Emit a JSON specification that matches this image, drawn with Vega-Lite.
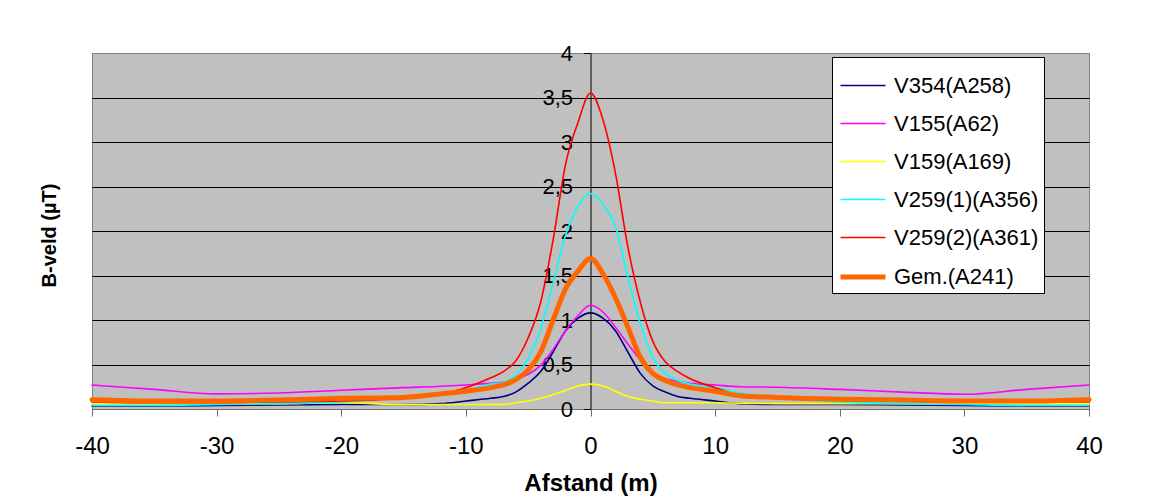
{
  "$schema": "https://vega.github.io/schema/vega-lite/v6.json",
  "width": 997,
  "height": 356,
  "autosize": {"type": "none"},
  "padding": {"left": 92, "top": 53, "right": 74, "bottom": 88},
  "background": "white",
  "config": {
    "font": "Liberation Sans",
    "view": {"fill": "#C0C0C0", "stroke": "#808080", "strokeWidth": 1}
  },
  "data": {"values": [
    {"x":-40,"s":"V354(A258)","v":0.035},{"x":-35,"s":"V354(A258)","v":0.035},{"x":-30,"s":"V354(A258)","v":0.04},{"x":-25,"s":"V354(A258)","v":0.045},{"x":-20,"s":"V354(A258)","v":0.05},{"x":-15,"s":"V354(A258)","v":0.05},{"x":-12,"s":"V354(A258)","v":0.06},{"x":-10,"s":"V354(A258)","v":0.09},{"x":-8,"s":"V354(A258)","v":0.12},{"x":-7,"s":"V354(A258)","v":0.14},{"x":-6,"s":"V354(A258)","v":0.19},{"x":-5,"s":"V354(A258)","v":0.29},{"x":-4,"s":"V354(A258)","v":0.42},{"x":-3,"s":"V354(A258)","v":0.64},{"x":-2,"s":"V354(A258)","v":0.88},{"x":-1,"s":"V354(A258)","v":1.02},{"x":0,"s":"V354(A258)","v":1.08},{"x":1,"s":"V354(A258)","v":1.02},{"x":2,"s":"V354(A258)","v":0.88},{"x":3,"s":"V354(A258)","v":0.64},{"x":4,"s":"V354(A258)","v":0.40},{"x":5,"s":"V354(A258)","v":0.26},{"x":6,"s":"V354(A258)","v":0.19},{"x":7,"s":"V354(A258)","v":0.14},{"x":8,"s":"V354(A258)","v":0.12},{"x":10,"s":"V354(A258)","v":0.09},{"x":12,"s":"V354(A258)","v":0.06},{"x":15,"s":"V354(A258)","v":0.05},{"x":20,"s":"V354(A258)","v":0.05},{"x":25,"s":"V354(A258)","v":0.045},{"x":30,"s":"V354(A258)","v":0.04},{"x":35,"s":"V354(A258)","v":0.035},{"x":40,"s":"V354(A258)","v":0.035},
    {"x":-40,"s":"V155(A62)","v":0.27},{"x":-35,"s":"V155(A62)","v":0.22},{"x":-30,"s":"V155(A62)","v":0.17},{"x":-25,"s":"V155(A62)","v":0.18},{"x":-20,"s":"V155(A62)","v":0.21},{"x":-15,"s":"V155(A62)","v":0.24},{"x":-12,"s":"V155(A62)","v":0.255},{"x":-10,"s":"V155(A62)","v":0.27},{"x":-8,"s":"V155(A62)","v":0.29},{"x":-7,"s":"V155(A62)","v":0.30},{"x":-6,"s":"V155(A62)","v":0.34},{"x":-5,"s":"V155(A62)","v":0.39},{"x":-4,"s":"V155(A62)","v":0.49},{"x":-3,"s":"V155(A62)","v":0.67},{"x":-2,"s":"V155(A62)","v":0.88},{"x":-1,"s":"V155(A62)","v":1.05},{"x":0,"s":"V155(A62)","v":1.165},{"x":1,"s":"V155(A62)","v":1.09},{"x":2,"s":"V155(A62)","v":0.92},{"x":3,"s":"V155(A62)","v":0.73},{"x":4,"s":"V155(A62)","v":0.55},{"x":5,"s":"V155(A62)","v":0.40},{"x":6,"s":"V155(A62)","v":0.34},{"x":7,"s":"V155(A62)","v":0.31},{"x":8,"s":"V155(A62)","v":0.29},{"x":10,"s":"V155(A62)","v":0.27},{"x":12,"s":"V155(A62)","v":0.25},{"x":15,"s":"V155(A62)","v":0.245},{"x":20,"s":"V155(A62)","v":0.22},{"x":25,"s":"V155(A62)","v":0.19},{"x":30,"s":"V155(A62)","v":0.165},{"x":35,"s":"V155(A62)","v":0.22},{"x":40,"s":"V155(A62)","v":0.27},
    {"x":-40,"s":"V159(A169)","v":0.06},{"x":-35,"s":"V159(A169)","v":0.06},{"x":-30,"s":"V159(A169)","v":0.06},{"x":-25,"s":"V159(A169)","v":0.06},{"x":-20,"s":"V159(A169)","v":0.07},{"x":-15,"s":"V159(A169)","v":0.05},{"x":-12,"s":"V159(A169)","v":0.05},{"x":-10,"s":"V159(A169)","v":0.05},{"x":-8,"s":"V159(A169)","v":0.05},{"x":-7,"s":"V159(A169)","v":0.05},{"x":-6,"s":"V159(A169)","v":0.07},{"x":-5,"s":"V159(A169)","v":0.09},{"x":-4,"s":"V159(A169)","v":0.12},{"x":-3,"s":"V159(A169)","v":0.16},{"x":-2,"s":"V159(A169)","v":0.21},{"x":-1,"s":"V159(A169)","v":0.26},{"x":0,"s":"V159(A169)","v":0.28},{"x":1,"s":"V159(A169)","v":0.26},{"x":2,"s":"V159(A169)","v":0.20},{"x":3,"s":"V159(A169)","v":0.14},{"x":4,"s":"V159(A169)","v":0.11},{"x":5,"s":"V159(A169)","v":0.09},{"x":6,"s":"V159(A169)","v":0.07},{"x":7,"s":"V159(A169)","v":0.07},{"x":8,"s":"V159(A169)","v":0.07},{"x":10,"s":"V159(A169)","v":0.07},{"x":12,"s":"V159(A169)","v":0.065},{"x":15,"s":"V159(A169)","v":0.06},{"x":20,"s":"V159(A169)","v":0.06},{"x":25,"s":"V159(A169)","v":0.06},{"x":30,"s":"V159(A169)","v":0.06},{"x":35,"s":"V159(A169)","v":0.06},{"x":40,"s":"V159(A169)","v":0.06},
    {"x":-40,"s":"V259(1)(A356)","v":0.04},{"x":-35,"s":"V259(1)(A356)","v":0.04},{"x":-30,"s":"V259(1)(A356)","v":0.05},{"x":-25,"s":"V259(1)(A356)","v":0.06},{"x":-20,"s":"V259(1)(A356)","v":0.08},{"x":-15,"s":"V259(1)(A356)","v":0.13},{"x":-12,"s":"V259(1)(A356)","v":0.17},{"x":-10,"s":"V259(1)(A356)","v":0.21},{"x":-8,"s":"V259(1)(A356)","v":0.28},{"x":-7,"s":"V259(1)(A356)","v":0.30},{"x":-6,"s":"V259(1)(A356)","v":0.38},{"x":-5,"s":"V259(1)(A356)","v":0.57},{"x":-4,"s":"V259(1)(A356)","v":0.90},{"x":-3,"s":"V259(1)(A356)","v":1.42},{"x":-2,"s":"V259(1)(A356)","v":1.95},{"x":-1,"s":"V259(1)(A356)","v":2.28},{"x":0,"s":"V259(1)(A356)","v":2.42},{"x":1,"s":"V259(1)(A356)","v":2.30},{"x":2,"s":"V259(1)(A356)","v":2.05},{"x":3,"s":"V259(1)(A356)","v":1.48},{"x":4,"s":"V259(1)(A356)","v":0.96},{"x":5,"s":"V259(1)(A356)","v":0.58},{"x":6,"s":"V259(1)(A356)","v":0.40},{"x":7,"s":"V259(1)(A356)","v":0.32},{"x":8,"s":"V259(1)(A356)","v":0.28},{"x":10,"s":"V259(1)(A356)","v":0.24},{"x":12,"s":"V259(1)(A356)","v":0.18},{"x":15,"s":"V259(1)(A356)","v":0.13},{"x":20,"s":"V259(1)(A356)","v":0.08},{"x":25,"s":"V259(1)(A356)","v":0.06},{"x":30,"s":"V259(1)(A356)","v":0.05},{"x":35,"s":"V259(1)(A356)","v":0.04},{"x":40,"s":"V259(1)(A356)","v":0.04},
    {"x":-40,"s":"V259(2)(A361)","v":0.08},{"x":-35,"s":"V259(2)(A361)","v":0.07},{"x":-30,"s":"V259(2)(A361)","v":0.07},{"x":-25,"s":"V259(2)(A361)","v":0.08},{"x":-20,"s":"V259(2)(A361)","v":0.09},{"x":-15,"s":"V259(2)(A361)","v":0.12},{"x":-12,"s":"V259(2)(A361)","v":0.17},{"x":-10,"s":"V259(2)(A361)","v":0.24},{"x":-8,"s":"V259(2)(A361)","v":0.35},{"x":-7,"s":"V259(2)(A361)","v":0.42},{"x":-6,"s":"V259(2)(A361)","v":0.54},{"x":-5,"s":"V259(2)(A361)","v":0.80},{"x":-4,"s":"V259(2)(A361)","v":1.20},{"x":-3,"s":"V259(2)(A361)","v":1.90},{"x":-2,"s":"V259(2)(A361)","v":2.75},{"x":-1,"s":"V259(2)(A361)","v":3.22},{"x":0,"s":"V259(2)(A361)","v":3.55},{"x":1,"s":"V259(2)(A361)","v":3.25},{"x":2,"s":"V259(2)(A361)","v":2.65},{"x":3,"s":"V259(2)(A361)","v":1.82},{"x":4,"s":"V259(2)(A361)","v":1.20},{"x":5,"s":"V259(2)(A361)","v":0.76},{"x":6,"s":"V259(2)(A361)","v":0.53},{"x":7,"s":"V259(2)(A361)","v":0.42},{"x":8,"s":"V259(2)(A361)","v":0.34},{"x":10,"s":"V259(2)(A361)","v":0.24},{"x":12,"s":"V259(2)(A361)","v":0.15},{"x":15,"s":"V259(2)(A361)","v":0.12},{"x":20,"s":"V259(2)(A361)","v":0.10},{"x":25,"s":"V259(2)(A361)","v":0.09},{"x":30,"s":"V259(2)(A361)","v":0.08},{"x":35,"s":"V259(2)(A361)","v":0.08},{"x":40,"s":"V259(2)(A361)","v":0.08},
    {"x":-40,"s":"Gem.(A241)","v":0.105},{"x":-35,"s":"Gem.(A241)","v":0.09},{"x":-30,"s":"Gem.(A241)","v":0.09},{"x":-25,"s":"Gem.(A241)","v":0.10},{"x":-20,"s":"Gem.(A241)","v":0.12},{"x":-15,"s":"Gem.(A241)","v":0.13},{"x":-12,"s":"Gem.(A241)","v":0.17},{"x":-10,"s":"Gem.(A241)","v":0.20},{"x":-8,"s":"Gem.(A241)","v":0.24},{"x":-7,"s":"Gem.(A241)","v":0.27},{"x":-6,"s":"Gem.(A241)","v":0.33},{"x":-5,"s":"Gem.(A241)","v":0.44},{"x":-4,"s":"Gem.(A241)","v":0.64},{"x":-3,"s":"Gem.(A241)","v":1.00},{"x":-2,"s":"Gem.(A241)","v":1.35},{"x":-1,"s":"Gem.(A241)","v":1.55},{"x":0,"s":"Gem.(A241)","v":1.69},{"x":1,"s":"Gem.(A241)","v":1.52},{"x":2,"s":"Gem.(A241)","v":1.25},{"x":3,"s":"Gem.(A241)","v":0.92},{"x":4,"s":"Gem.(A241)","v":0.58},{"x":5,"s":"Gem.(A241)","v":0.40},{"x":6,"s":"Gem.(A241)","v":0.32},{"x":7,"s":"Gem.(A241)","v":0.27},{"x":8,"s":"Gem.(A241)","v":0.24},{"x":10,"s":"Gem.(A241)","v":0.20},{"x":12,"s":"Gem.(A241)","v":0.15},{"x":15,"s":"Gem.(A241)","v":0.13},{"x":20,"s":"Gem.(A241)","v":0.11},{"x":25,"s":"Gem.(A241)","v":0.10},{"x":30,"s":"Gem.(A241)","v":0.09},{"x":35,"s":"Gem.(A241)","v":0.09},{"x":40,"s":"Gem.(A241)","v":0.105}
  ]},
  "mark": {"type": "line", "interpolate": "monotone", "strokeJoin": "round", "strokeCap": "round"},
  "encoding": {
    "x": {
      "field": "x", "type": "quantitative",
      "scale": {"domain": [-40, 40], "nice": false, "zero": false},
      "axis": {
        "orient": "bottom", "values": [-40, -30, -20, -10, 0, 10, 20, 30, 40],
        "labelExpr": "'' + datum.value",
        "grid": false, "domainColor": "#707070", "tickColor": "#707070", "tickSize": 7,
        "labelFontSize": 24, "labelColor": "black", "labelPadding": 18, "labelFlush": false,
        "title": "Afstand (m)", "titleFontSize": 24, "titleFontWeight": "bold", "titleColor": "black", "titlePadding": 13
      }
    },
    "y": {
      "field": "v", "type": "quantitative",
      "scale": {"domain": [0, 4], "nice": false},
      "axis": {
        "orient": "left", "offset": -498.5,
        "values": [0, 0.5, 1, 1.5, 2, 2.5, 3, 3.5, 4],
        "labelExpr": "replace(format(datum.value, '.1~f'), '.', ',')",
        "grid": true, "gridColor": {"condition": {"test": "datum.value >= 4", "value": "#808080"}, "value": "#000000"}, "gridWidth": 1,
        "domainColor": "black", "tickColor": "black", "tickSize": 7,
        "labelFontSize": 22, "labelColor": "black", "labelPadding": 11, "labelBaseline": "middle",
        "title": "B-veld (µT)", "titleFontSize": 20, "titleFontWeight": "bold", "titleColor": "black",
        "titleX": -541.5, "titleY": 182, "titleAngle": 270, "titleAlign": "center", "titleBaseline": "middle"
      }
    },
    "color": {
      "field": "s", "type": "nominal",
      "scale": {
        "domain": ["V354(A258)", "V155(A62)", "V159(A169)", "V259(1)(A356)", "V259(2)(A361)", "Gem.(A241)"],
        "range": ["#000080", "#FF00FF", "#FFFF00", "#00FFFF", "#FF0000", "#FF6600"]
      },
      "legend": {
        "orient": "none", "legendX": 740, "legendY": 4, "title": null,
        "fillColor": "white", "strokeColor": "black", "padding": 5,
        "labelFontSize": 22, "labelColor": "black", "labelOffset": 6, "labelLimit": 300,
        "symbolType": "stroke", "symbolSize": 2025, "symbolOffset": 1, "rowPadding": 3
      }
    },
    "strokeWidth": {
      "field": "s", "type": "nominal",
      "scale": {
        "type": "ordinal",
        "domain": ["V354(A258)", "V155(A62)", "V159(A169)", "V259(1)(A356)", "V259(2)(A361)", "Gem.(A241)"],
        "range": [1.6, 1.6, 1.6, 1.6, 1.6, 5]
      },
      "legend": {
        "orient": "none", "legendX": 740, "legendY": 4, "title": null,
        "fillColor": "white", "strokeColor": "black", "padding": 5,
        "labelFontSize": 22, "labelColor": "black", "labelOffset": 6, "labelLimit": 300,
        "symbolType": "stroke", "symbolSize": 2025, "symbolOffset": 1, "rowPadding": 3
      }
    }
  }
}
